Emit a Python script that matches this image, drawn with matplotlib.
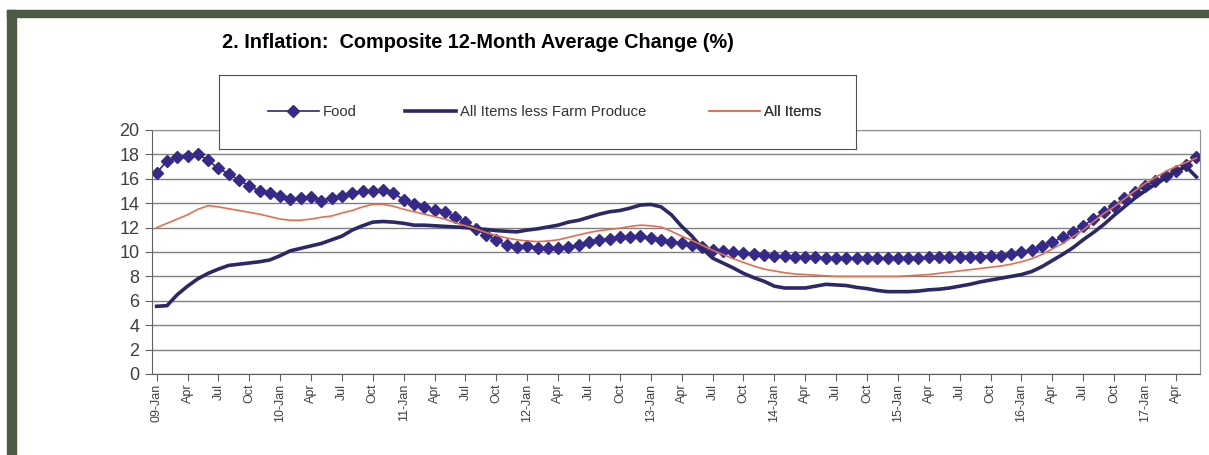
import matplotlib
matplotlib.use('Agg')
import matplotlib.pyplot as plt
from matplotlib.patches import Rectangle

plt.rcParams['font.family'] = ['Liberation Sans', 'DejaVu Sans']

# months Jan 2009 .. Jun 2017
years = list(range(2009, 2018))
month_names = ['Jan', 'Apr', 'Jul', 'Oct']

food = [16.5, 17.45, 17.75, 17.9, 18.05, 17.5, 16.85, 16.4, 15.9, 15.4, 15.0, 14.8,
        14.6, 14.35, 14.4, 14.5, 14.2, 14.45, 14.6, 14.8, 15.0, 15.0, 15.1, 14.8,
        14.3, 13.9, 13.7, 13.45, 13.25, 12.9, 12.45, 11.9, 11.4, 10.95, 10.55, 10.4,
        10.5, 10.35, 10.3, 10.3, 10.4, 10.6, 10.85, 11.0, 11.1, 11.2, 11.25, 11.3,
        11.15, 11.0, 10.85, 10.75, 10.6, 10.4, 10.2, 10.1, 10.0, 9.9, 9.8, 9.75, 9.7, 9.65,
        9.6, 9.55, 9.55, 9.5, 9.5, 9.5, 9.5, 9.5, 9.5, 9.5, 9.5, 9.5,
        9.5, 9.55, 9.55, 9.55, 9.6, 9.6, 9.6, 9.65, 9.7, 9.8, 10.0, 10.15,
        10.5, 10.8, 11.2, 11.6, 12.15, 12.7, 13.25, 13.8, 14.4, 14.95, 15.4, 15.8,
        16.2, 16.6, 17.1, 17.8]

less_farm = [5.55, 5.6, 6.5, 7.2, 7.8, 8.25, 8.6, 8.9, 9.0, 9.1, 9.2, 9.35,
             9.7, 10.1, 10.3, 10.5, 10.7, 11.0, 11.3, 11.8, 12.15, 12.45, 12.5, 12.45,
             12.35, 12.2, 12.2, 12.15, 12.1, 12.05, 12.0, 11.9, 11.85, 11.75, 11.7, 11.65,
             11.8, 11.9, 12.05, 12.2, 12.45, 12.6, 12.85, 13.1, 13.3, 13.4, 13.6, 13.85,
             13.9, 13.7, 13.05, 12.1, 11.3, 10.3, 9.5, 9.1, 8.7, 8.25, 7.9, 7.6,
             7.2, 7.05, 7.05, 7.05, 7.2, 7.35, 7.3, 7.25, 7.1, 7.0, 6.85, 6.75,
             6.75, 6.75, 6.8, 6.9, 6.95, 7.05, 7.2, 7.35, 7.55, 7.7, 7.85, 8.0,
             8.15, 8.4, 8.8, 9.3, 9.8, 10.35, 11.0, 11.6, 12.25, 13.0, 13.7, 14.4,
             15.0, 15.55, 16.05, 16.6, 17.0, 16.15]

all_items = [12.0, 12.35, 12.7, 13.05, 13.5, 13.8, 13.7, 13.55, 13.4, 13.25, 13.1, 12.9,
             12.7, 12.6, 12.6, 12.7, 12.85, 12.95, 13.2, 13.4, 13.7, 13.9, 13.9, 13.75,
             13.5, 13.3, 13.1, 12.9, 12.7, 12.4, 12.15, 11.9, 11.6, 11.35, 11.15, 11.0,
             10.9, 10.85, 10.9, 11.0, 11.2, 11.4, 11.6, 11.75, 11.85, 11.95, 12.1, 12.2,
             12.15, 12.05, 11.7, 11.3, 10.95, 10.55, 10.15, 9.8, 9.45, 9.15, 8.85, 8.6,
             8.45, 8.3, 8.2, 8.15, 8.1, 8.05, 8.0, 8.0, 8.0, 8.0, 8.0, 8.0,
             8.0, 8.05, 8.1, 8.15, 8.25, 8.35, 8.45, 8.55, 8.65, 8.75, 8.85, 9.0,
             9.2, 9.45, 9.8, 10.25, 10.7, 11.25, 11.8, 12.5, 13.15, 13.7, 14.35, 15.0,
             15.6, 16.1, 16.6, 17.0, 17.35, 17.7]

x = list(range(len(food)))

tick_pos = list(range(0, len(food), 3))
tick_labels = []
for p in tick_pos:
    m = month_names[(p % 12) // 3]
    if m == 'Jan':
        tick_labels.append('%02d-Jan' % (years[p // 12] % 100))
    else:
        tick_labels.append(m)

fig = plt.figure(figsize=(12.09, 4.55), dpi=100)
ax = fig.add_axes([152 / 1209, 1 - 374 / 455, (1200 - 152) / 1209, (374 - 130) / 455])

ax.plot(x, food, color='#2e2878', lw=1.2, marker='D', ms=6.5, mfc='#35298a', mec='#35298a', label='Food')
ax.plot(x, less_farm, color='#2b2868', lw=2.6, label='All Items less Farm Produce')
ax.plot(x, all_items, color='#e2704f', lw=1.2, label='All Items')

ax.set_xlim(-0.45, 101.35)
ax.set_ylim(0, 20)
ax.set_yticks(range(0, 21, 2))
ax.set_xticks(tick_pos)
ax.set_xticklabels(tick_labels, rotation=90, fontsize=9, color='#404040')
ax.tick_params(axis='y', labelsize=13, labelcolor='#404040', length=5, color='#606060', pad=4)
ax.tick_params(axis='x', length=5, color='#606060', pad=2)
ax.yaxis.grid(True, color='#808080', lw=1)
ax.set_axisbelow(True)
for s in ['top', 'right']:
    ax.spines[s].set_color('#909090')
for s in ['left', 'bottom']:
    ax.spines[s].set_color('#606060')

fig.text(222 / 1209, 1 - 42 / 455, '2. Inflation:  Composite 12-Month Average Change (%)',
         fontsize=14.3, fontweight='bold', va='center', ha='left')

# legend box overlapping the top of the plot
lax = fig.add_axes([219 / 1209, 1 - 149 / 455, (856 - 219) / 1209, (149 - 75) / 455])
lax.set_xticks([])
lax.set_yticks([])
for s in lax.spines.values():
    s.set_color('#505050')
h, l = ax.get_legend_handles_labels()
starts = [0.077, 0.292, 0.77]
for hh, ll, x0 in zip(h, l, starts):
    leg = lax.legend([hh], [ll], loc='center left', bbox_to_anchor=(x0, 0.5), frameon=False,
                     fontsize=10.7, handlelength=3.4, handletextpad=0.3, borderpad=0,
                     borderaxespad=0, labelcolor='#333333')
    lax.add_artist(leg)

# outer dark green frame
fig.patches.append(Rectangle((7 / 1209, 0), 9 / 1209, 445 / 455, transform=fig.transFigure,
                             color='#4b5b44', zorder=0))
fig.patches.append(Rectangle((7 / 1209, 1 - 17 / 455), 1202 / 1209, 7 / 455,
                             transform=fig.transFigure, color='#4b5b44', zorder=0))

fig.savefig('out.png', dpi=100)
